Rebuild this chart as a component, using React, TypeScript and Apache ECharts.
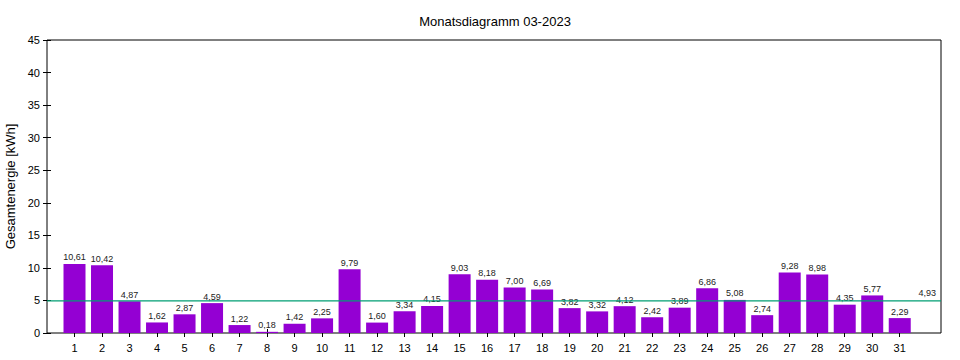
import React, { useEffect, useRef } from "react";
import * as echarts from "echarts";

const days = [1,2,3,4,5,6,7,8,9,10,11,12,13,14,15,16,17,18,19,20,21,22,23,24,25,26,27,28,29,30,31];
const energy = [10.61,10.42,4.87,1.62,2.87,4.59,1.22,0.18,1.42,2.25,9.79,1.60,3.34,4.15,9.03,8.18,7.00,6.69,3.82,3.32,4.12,2.42,3.89,6.86,5.08,2.74,9.28,8.98,4.35,5.77,2.29];
const average = 4.93;
const averageLabelPos = 32;
const yTicks = [0,5,10,15,20,25,30,35,40,45];
const title = "Monatsdiagramm 03-2023";
const yName = "Gesamtenergie [kWh]";

const fmt = (v: number) => v.toFixed(2).replace(".", ",");
const FONT = "Liberation Sans, Arial, sans-serif";

export default function App() {
  const ref = useRef<HTMLDivElement>(null);
  useEffect(() => {
    if (!ref.current) return;
    const chart = echarts.init(ref.current, undefined, { renderer: "svg" });
    const xCommon = {
      type: "value" as const,
      min: 0,
      max: 32.5,
      interval: 1,
      splitLine: { show: false },
      axisLine: { show: false },
    };
    const yCommon = {
      type: "value" as const,
      min: 0,
      max: 45,
      interval: 5,
      splitLine: { show: false },
      axisLine: { show: false },
    };
    chart.setOption({
      animation: false,
      title: {
        text: title,
        left: 490,
        textAlign: "center",
        top: 10,
        textStyle: { fontFamily: FONT, fontSize: 13, fontWeight: "normal", color: "#000" },
      },
      grid: {
        left: 47,
        right: 19,
        top: 40,
        bottom: 27,
        containLabel: false,
        outerBoundsMode: "none",
        show: true,
        borderColor: "#000",
        borderWidth: 1,
        backgroundColor: "transparent",
      },
      xAxis: [
        {
          ...xCommon,
          position: "bottom",
          axisTick: { show: true, inside: true, length: 4, customValues: days, lineStyle: { color: "#000" } },
          axisLabel: { customValues: days, color: "#000", fontFamily: FONT, fontSize: 11, margin: 9 },
        },
        {
          ...xCommon,
          position: "top",
          axisTick: { show: true, inside: true, length: 4, customValues: days, lineStyle: { color: "#000" } },
          axisLabel: { show: false },
        },
      ],
      yAxis: [
        {
          ...yCommon,
          position: "left",
          name: yName,
          nameLocation: "middle",
          nameGap: 28,
          nameTextStyle: { fontFamily: FONT, fontSize: 13, color: "#000" },
          axisTick: { show: true, inside: true, length: 4, lineStyle: { color: "#000" } },
          axisLabel: { color: "#000", fontFamily: FONT, fontSize: 11, margin: 7, customValues: yTicks },
        },
        {
          ...yCommon,
          position: "right",
          axisTick: { show: true, inside: true, length: 4, lineStyle: { color: "#000" } },
          axisLabel: { show: false },
        },
      ],
      series: [
        {
          type: "bar",
          xAxisIndex: 0,
          yAxisIndex: 0,
          barWidth: 22,
          data: days.map((d, i) => [d, energy[i]]),
          itemStyle: { color: "#9400d3" },
          label: {
            show: true,
            position: "top",
            distance: 2,
            formatter: (p: any) => fmt(p.value[1]),
            fontFamily: FONT,
            fontSize: 9,
            color: "#222",
          },
          z: 2,
        },
        {
          type: "line",
          xAxisIndex: 0,
          yAxisIndex: 0,
          data: [[0, average], [32.5, average]],
          symbol: "none",
          lineStyle: { color: "#009e73", width: 1.2 },
          z: 3,
        },
        {
          type: "scatter",
          xAxisIndex: 0,
          yAxisIndex: 0,
          data: [[averageLabelPos, average]],
          symbolSize: 1,
          itemStyle: { opacity: 1, color: "rgba(0,0,0,0)" },
          label: {
            show: true,
            position: "top",
            distance: 3,
            formatter: () => fmt(average),
            fontFamily: FONT,
            fontSize: 9,
            color: "#222",
          },
          z: 4,
        },
      ],
    });
    return () => chart.dispose();
  }, []);
  return (
    <div
      ref={ref}
      style={{ position: "absolute", left: 0, top: 0, width: 960, height: 360 }}
    />
  );
}
